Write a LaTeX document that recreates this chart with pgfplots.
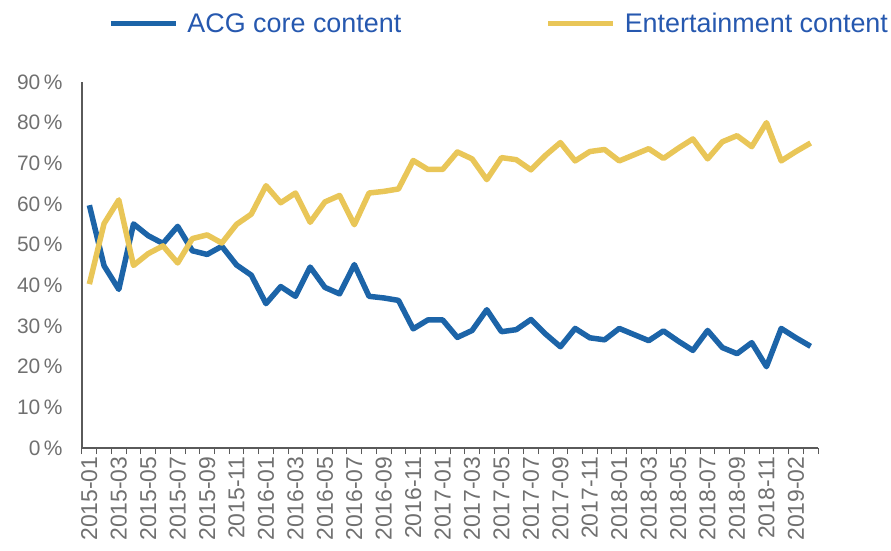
\documentclass[border=0pt]{standalone}
\usepackage{pgfplots}
\pgfplotsset{compat=1.18}
\usepackage{pgfplotstable}
\usepackage{fontspec}
\setmainfont{Liberation Sans}

\definecolor{acgblue}{RGB}{28,100,168}
\definecolor{entyellow}{RGB}{233,198,88}
\definecolor{legtext}{RGB}{38,88,175}
\definecolor{ticktext}{RGB}{112,112,112}
\definecolor{axisgray}{RGB}{90,90,90}

% share of content, % of total (index 0 = 2015-01)
\pgfplotstableread{
idx acg ent
0 59.7 40.3
1 44.8 55.2
2 39.0 61.0
3 55.1 44.9
4 52.2 47.8
5 50.3 49.7
6 54.5 45.5
7 48.5 51.5
8 47.6 52.4
9 49.6 50.4
10 45.0 55.0
11 42.5 57.5
12 35.5 64.5
13 39.7 60.3
14 37.3 62.7
15 44.5 55.5
16 39.5 60.5
17 37.9 62.1
18 45.1 54.9
19 37.3 62.7
20 36.9 63.1
21 36.3 63.7
22 29.3 70.7
23 31.5 68.5
24 31.5 68.5
25 27.2 72.8
26 28.9 71.1
27 34.0 66.0
28 28.6 71.4
29 29.1 70.9
30 31.6 68.4
31 28.0 72.0
32 24.9 75.1
33 29.4 70.6
34 27.1 72.9
35 26.6 73.4
36 29.4 70.6
37 27.9 72.1
38 26.4 73.6
39 28.8 71.2
40 26.3 73.7
41 24.0 76.0
42 28.9 71.1
43 24.7 75.3
44 23.2 76.8
45 25.9 74.1
46 20.0 80.0
47 29.4 70.6
48 27.1 72.9
49 25.0 75.0
}\sharedata

\begin{document}
\begin{tikzpicture}
\useasboundingbox (-82bp,-103bp) rectangle (809bp,448bp);
\begin{axis}[
  at={(0,0)}, anchor=south west,
  scale only axis, width=736bp, height=366bp,
  xmin=-0.5, xmax=49.5, ymin=0, ymax=90,
  axis x line=bottom, axis y line=left,
  axis line style={-, axisgray, line width=1.2bp},
  xtick={-0.5,0.5,...,49.5},
  xticklabels={},
  major tick length=6bp, tick align=outside,
  xtick style={axisgray, line width=1bp},
  extra x ticks={0,2,...,48},
  extra x tick labels={2015-01,2015-03,2015-05,2015-07,2015-09,2015-11,
    2016-01,2016-03,2016-05,2016-07,2016-09,2016-11,
    2017-01,2017-03,2017-05,2017-07,2017-09,2017-11,
    2018-01,2018-03,2018-05,2018-07,2018-09,2018-11,2019-02},
  extra x tick style={major tick length=0pt,
    xticklabel style={rotate=90, anchor=east, xshift=-5bp}},
  x tick label style={font=\fontsize{23}{26}\selectfont, text=ticktext},
  ytick={0,10,...,90},
  yticklabels={0\,\%,10\,\%,20\,\%,30\,\%,40\,\%,50\,\%,60\,\%,70\,\%,80\,\%,90\,\%},
  ytick style={draw=none},
  y tick label style={font=\fontsize{21}{24}\selectfont, text=ticktext, xshift=-10bp},
  legend columns=2,
  legend style={at={(0.031,1.16)}, anchor=west, draw=none, fill=none,
    font=\fontsize{27}{32}\selectfont, text=legtext,
    /tikz/every odd column/.append style={column sep=7bp},
    /tikz/every even column/.append style={column sep=142bp}},
  legend image code/.code={\draw[#1] (0bp,0bp) -- (65bp,0bp);},
]
\addplot[acgblue, line width=5.5bp, line join=round, no marks]
  table[x=idx, y=acg] {\sharedata};
\addplot[entyellow, line width=5.5bp, line join=round, no marks]
  table[x=idx, y=ent] {\sharedata};
\legend{ACG core content, Entertainment content}
\end{axis}
\end{tikzpicture}
\end{document}
